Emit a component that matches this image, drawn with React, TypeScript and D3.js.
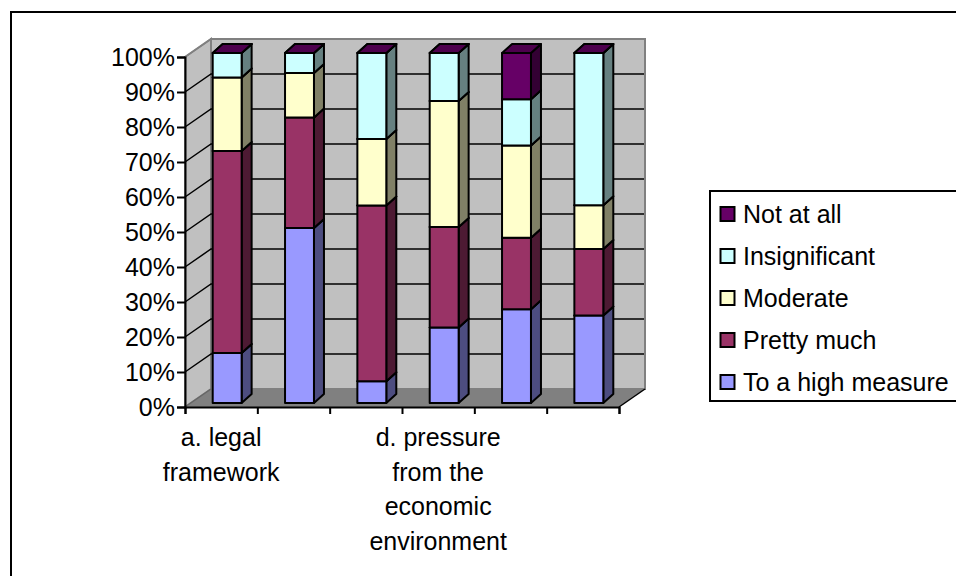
import { useEffect, useRef } from "react";
import * as d3 from "d3";

// Only every third category label is shown in the chart
const categories = ["a. legal framework", "b", "c", "d. pressure from the economic environment", "e", "f"];
const categoryLines: string[][] = [
  ["a. legal", "framework"],
  [],
  [],
  ["d. pressure", "from the", "economic", "environment"],
  [],
  [],
];
const seriesNames = ["To a high measure", "Pretty much", "Moderate", "Insignificant", "Not at all"];
const highMeasure = [14.3, 50, 6.2, 21.6, 26.8, 25];
const prettyMuch = [57.7, 31.6, 50.2, 28.7, 20.4, 19];
const moderate = [21, 12.7, 19, 36, 26.4, 12.5];
const insignificant = [7, 5.7, 24.6, 13.7, 13.2, 43.5];
const notAtAll = [0, 0, 0, 0, 13.2, 0];
const seriesColors = ["#9999ff", "#993366", "#ffffcc", "#ccffff", "#660066"];
const yTicks = [0, 10, 20, 30, 40, 50, 60, 70, 80, 90, 100];

const FONT = "'Liberation Sans', Arial, sans-serif";

export default function App() {
  const svgRef = useRef<SVGSVGElement>(null);

  useEffect(() => {
    if (!svgRef.current) return;
    const svg = d3.select(svgRef.current);
    svg.selectAll("*").remove();

    // Outer frame runs off the right and bottom of the picture
    svg
      .append("path")
      .attr("d", "M11,576V12H956")
      .attr("fill", "none")
      .attr("stroke", "#000")
      .attr("stroke-width", 2);

    const rows = categories.map((c, i) => ({
      category: c,
      [seriesNames[0]]: highMeasure[i],
      [seriesNames[1]]: prettyMuch[i],
      [seriesNames[2]]: moderate[i],
      [seriesNames[3]]: insignificant[i],
      [seriesNames[4]]: notAtAll[i],
    }));
    const stacked = d3.stack<any>().keys(seriesNames)(rows);

    const left = 185;
    const right = 619;
    const wallDx = 26;
    const wallDy = -18;
    const x = d3
      .scaleBand<string>()
      .domain(categories)
      .range([left, right])
      .paddingInner(0.6)
      .paddingOuter(0.3);
    const y = d3.scaleLinear().domain([0, 100]).range([407, 57]);
    const color = d3.scaleOrdinal<string>().domain(seriesNames).range(seriesColors);

    const poly = (pts: [number, number][]) => d3.line()(pts) + "Z";

    // Walls and floor
    svg
      .append("path")
      .attr("d", poly([[left, y(0)], [left, y(100)], [left + wallDx, y(100) + wallDy], [left + wallDx, y(0) + wallDy]]))
      .attr("fill", "#c0c0c0")
      .attr("stroke", "#808080")
      .attr("stroke-width", 2);
    svg
      .append("rect")
      .attr("x", left + wallDx)
      .attr("y", y(100) + wallDy)
      .attr("width", right - left)
      .attr("height", y(0) - y(100))
      .attr("fill", "#c0c0c0")
      .attr("stroke", "#808080")
      .attr("stroke-width", 2);
    svg
      .append("path")
      .attr("d", poly([[left, y(0)], [left + wallDx, y(0) + wallDy], [right + wallDx, y(0) + wallDy], [right, y(0)]]))
      .attr("fill", "#808080");

    // Gridlines on the side wall and back wall
    yTicks
      .filter((t) => t > 0 && t < 100)
      .forEach((t) => {
        svg
          .append("path")
          .attr("d", d3.line()([[left, y(t)], [left + wallDx, y(t) + wallDy], [right + wallDx - 1, y(t) + wallDy]]))
          .attr("fill", "none")
          .attr("stroke", "#000")
          .attr("stroke-width", 1.5);
      });
    svg
      .append("path")
      .attr("d", d3.line()([[left, y(100)], [left + wallDx, y(100) + wallDy]]))
      .attr("stroke", "#808080")
      .attr("stroke-width", 1.5);
    svg
      .append("path")
      .attr("d", d3.line()([[left, y(0)], [left + wallDx, y(0) + wallDy]]))
      .attr("stroke", "#666")
      .attr("stroke-width", 1.5);
    svg
      .append("path")
      .attr("d", d3.line()([[right, y(0)], [right + wallDx, y(0) + wallDy]]))
      .attr("stroke", "#000")
      .attr("stroke-width", 1.5);

    // Bars: front face, side and top per stacked segment
    const barDx = 6;
    const barDy = -4;
    const depthX = 10;
    const depthY = -9;
    stacked.forEach((layer) => {
      const base = d3.color(color(layer.key))!;
      const side = d3.rgb(base).darker(0).copy();
      const dark = d3.rgb(side.r * 0.5, side.g * 0.5, side.b * 0.5).formatHex();
      const topFill = d3.rgb(side.r * 0.75, side.g * 0.75, side.b * 0.75).formatHex();
      const g = svg.append("g").attr("stroke", "#000").attr("stroke-width", 2).attr("stroke-linejoin", "round");
      layer.forEach((d) => {
        const x0 = x(d.data.category as string)! + barDx;
        const x1 = x0 + x.bandwidth();
        const yTop = y(d[1]) + barDy;
        const yBot = y(d[0]) + barDy;
        g.append("path")
          .attr("d", poly([[x1, yBot], [x1 + depthX, yBot + depthY], [x1 + depthX, yTop + depthY], [x1, yTop]]))
          .attr("fill", dark);
        g.append("path")
          .attr("d", poly([[x0, yTop], [x0 + depthX, yTop + depthY], [x1 + depthX, yTop + depthY], [x1, yTop]]))
          .attr("fill", topFill);
        g.append("rect")
          .attr("x", x0)
          .attr("y", yTop)
          .attr("width", x.bandwidth())
          .attr("height", yBot - yTop)
          .attr("fill", base.formatHex());
      });
    });

    // Value axis
    const yAxis = d3
      .axisLeft(y)
      .tickValues(yTicks)
      .tickSize(8)
      .tickPadding(2)
      .tickFormat((d) => `${d}%`);
    const yG = svg.append("g").attr("transform", `translate(${left},0)`).call(yAxis);
    yG.selectAll("path,line").attr("stroke", "#000").attr("stroke-width", 2);
    yG.selectAll("text").attr("font-family", FONT).attr("font-size", 25).attr("fill", "#000");

    // Category axis: ticks sit between the bands
    const xEdge = d3
      .scaleLinear()
      .domain([0, categories.length])
      .range([left, right]);
    const xAxis = d3
      .axisBottom(xEdge)
      .tickValues(d3.range(categories.length + 1))
      .tickSize(7)
      .tickFormat(() => "");
    const xG = svg.append("g").attr("transform", `translate(0,${y(0)})`).call(xAxis);
    xG.selectAll("path,line").attr("stroke", "#000").attr("stroke-width", 2);

    // Wrapped category labels
    const labels = svg
      .append("g")
      .attr("font-family", FONT)
      .attr("font-size", 25)
      .attr("text-anchor", "middle")
      .attr("fill", "#000");
    categoryLines.forEach((lines, i) => {
      const cx = xEdge(i + 0.5);
      lines.forEach((line, j) => {
        labels
          .append("text")
          .attr("x", cx)
          .attr("y", 446 + j * 34.7)
          .text(line);
      });
    });

    // Legend, top series first
    svg
      .append("rect")
      .attr("x", 710)
      .attr("y", 191)
      .attr("width", 300)
      .attr("height", 210)
      .attr("fill", "#fff")
      .attr("stroke", "#000")
      .attr("stroke-width", 2);
    const legendY = d3
      .scalePoint<string>()
      .domain([...seriesNames].reverse())
      .range([214, 382]);
    seriesNames.forEach((name) => {
      const row = svg.append("g").attr("transform", `translate(720,${legendY(name)})`);
      row
        .append("rect")
        .attr("x", 0.5)
        .attr("y", -7)
        .attr("width", 14)
        .attr("height", 14)
        .attr("fill", color(name))
        .attr("stroke", "#000")
        .attr("stroke-width", 2);
      row
        .append("text")
        .attr("x", 23)
        .attr("y", 9)
        .attr("font-family", FONT)
        .attr("font-size", 25)
        .attr("fill", "#000")
        .text(name);
    });
  }, []);

  return <svg ref={svgRef} width={956} height={576} style={{ position: "absolute", left: 0, top: 0, background: "#fff" }}></svg>;
}
